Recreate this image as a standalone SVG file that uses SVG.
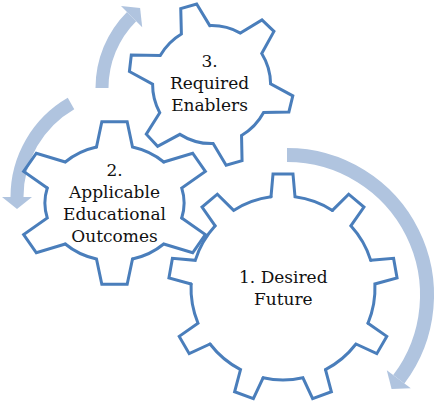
<svg xmlns="http://www.w3.org/2000/svg" xmlns:xlink="http://www.w3.org/1999/xlink" width="438" height="407" viewBox="0 0 438 407">
<style>
.gear{fill:none;stroke:#4A7EBB;stroke-width:3;stroke-linejoin:miter;stroke-linecap:round;vector-effect:non-scaling-stroke}
.lbl{font-family:"DejaVu Serif","Liberation Serif",serif;font-size:17px;fill:#111;text-anchor:middle}
.arc{fill:none;stroke:#B0C4DF;stroke-linecap:butt}
.head{fill:#B0C4DF}
</style>
<defs>
<path id="s9" class="gear" d="M91.21,-12.01 L114.06,-9.98 L114.06,9.98 L91.21,12.01 A92,92 0 0 1 77.59,49.43"/>
<path id="s6a" class="gear" d="M56.02,-15.01 L81.32,-10.56 L81.32,10.56 L56.02,15.01 A58,58 0 0 1 41.01,41.01"/>
</defs>
<g id="connectors">
<path class="arc" stroke-width="13" d="M102,88 A101,101 0 0 1 131.6,16.6"/>
<polygon class="head" points="121,6 142.2,27.2 140.1,8.1"/>
<path class="arc" stroke-width="13" d="M71,103.5 A108,108 0 0 0 17,197"/>
<polygon class="head" points="2,197 32,197 17,209"/>
<path class="arc" stroke-width="14" d="M287,155 A140,140 0 0 1 398.8,379.3"/>
<polygon class="head" points="386.8,370.3 410.8,388.3 391.6,388.9"/>
</g>
<g id="gear1">
<g transform="translate(283,288)">
<use xlink:href="#s9" transform="rotate(-90)"/>
<use xlink:href="#s9" transform="rotate(-50)"/>
<use xlink:href="#s9" transform="rotate(-10)"/>
<use xlink:href="#s9" transform="rotate(30)"/>
<use xlink:href="#s9" transform="rotate(70)"/>
<use xlink:href="#s9" transform="rotate(110)"/>
<use xlink:href="#s9" transform="rotate(150)"/>
<use xlink:href="#s9" transform="rotate(190)"/>
<use xlink:href="#s9" transform="rotate(230)"/>
</g>
<text class="lbl" x="283.3" y="283">1. Desired</text>
<text class="lbl" x="283.3" y="304.5">Future</text>
</g>
<g id="gear2">
<g transform="translate(114.5,203) scale(1.2,1)">
<use xlink:href="#s6a" transform="rotate(-90)"/>
<use xlink:href="#s6a" transform="rotate(-30)"/>
<use xlink:href="#s6a" transform="rotate(30)"/>
<use xlink:href="#s6a" transform="rotate(90)"/>
<use xlink:href="#s6a" transform="rotate(150)"/>
<use xlink:href="#s6a" transform="rotate(210)"/>
</g>
<text class="lbl" x="114.5" y="176">2.</text>
<text class="lbl" x="114.5" y="197.5">Applicable</text>
<text class="lbl" x="114.5" y="219.5">Educational</text>
<text class="lbl" x="114.5" y="241.5">Outcomes</text>
</g>
<g id="gear3">
<path class="gear" stroke-linejoin="miter" d="M181.39,33.92 L180.75,8.63 L196.66,3.97 L209.75,25.63 A59,59 0 0 1 240.39,33.10 L261.97,19.89 L273.95,31.35 L261.74,53.51 A59,59 0 0 1 270.59,83.78 L292.82,95.87 L288.89,111.97 L263.6,112.48 A59,59 0 0 1 241.54,135.43 L242.05,160.74 L226.12,165.3 L213.15,143.58 A59,59 0 0 1 179.9,134.36 L157.59,146.3 L146.29,134.18 L159.75,112.75 A59,59 0 0 1 152.6,84.09 L129.4,71.5 L131.3,55 L160.25,55.55 A59,59 0 0 1 181.39,33.92 Z"/>
<text class="lbl" x="209.5" y="66.5">3.</text>
<text class="lbl" x="209.5" y="88.5">Required</text>
<text class="lbl" x="209.5" y="110.5">Enablers</text>
</g>
</svg>
